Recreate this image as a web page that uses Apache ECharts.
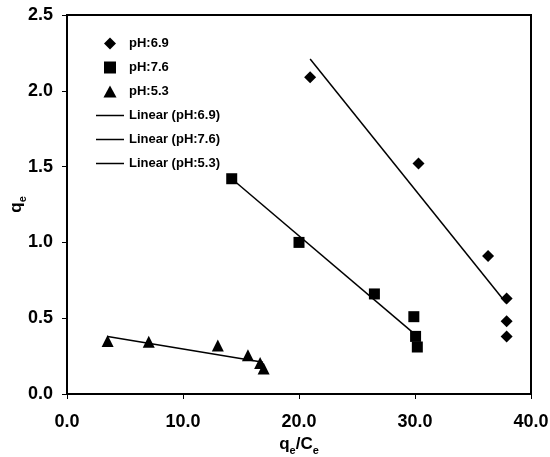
<!DOCTYPE html>
<html>
<head>
<meta charset="utf-8">
<script src="https://cdn.jsdelivr.net/npm/echarts@6/dist/echarts.min.js"></script>
<style>html,body{margin:0;padding:0;background:#fff}#c{width:550px;height:457px}</style>
</head>
<body>
<div id="c"></div>
<script>
// Data
const ph69X = [20.96, 30.3, 36.3, 37.9, 37.9, 37.9];
const ph69Y = [2.09, 1.52, 0.91, 0.63, 0.48, 0.38];
const ph76X = [14.2, 20.0, 26.5, 29.9, 30.05, 30.2];
const ph76Y = [1.42, 1.00, 0.66, 0.51, 0.38, 0.31];
const ph53X = [3.5, 7.05, 13.0, 15.6, 16.65, 16.95];
const ph53Y = [0.35, 0.345, 0.32, 0.255, 0.205, 0.168];
// Trend-line endpoints
const lin69X = [20.96, 37.85];
const lin69Y = [2.21, 0.60];
const lin76X = [14.2, 29.9];
const lin76Y = [1.42, 0.40];
const lin53X = [3.5, 16.9];
const lin53Y = [0.38, 0.21];
const xTicks = [0, 10, 20, 30, 40];
const yTicks = [0, 0.5, 1.0, 1.5, 2.0, 2.5];
const seriesNames = ['pH:6.9', 'pH:7.6', 'pH:5.3', 'Linear (pH:6.9)', 'Linear (pH:7.6)', 'Linear (pH:5.3)'];

const zip = (xs, ys) => xs.map((x, i) => [x, ys[i]]);
const FONT = '"Liberation Sans", Arial, sans-serif';

const ICON_DIAMOND = 'path://M6,0 L12,6 L6,12 L0,6 Z';
const ICON_SQUARE = 'path://M0,0 L11,0 L11,11 L0,11 Z';
const ICON_TRIANGLE = 'path://M6,0 L12,11 L0,11 Z';
const ICON_LINE = 'path://M0,0 L28,0 L28,1.5 L0,1.5 Z';
const legendIcons = [ICON_DIAMOND, ICON_SQUARE, ICON_TRIANGLE, ICON_LINE, ICON_LINE, ICON_LINE];

const chart = echarts.init(document.getElementById('c'), null, {renderer: 'canvas'});
const lineStyle = {color: '#000', width: 1.5};
const subRich = {
  a: {fontFamily: FONT, fontWeight: 'bold', fontSize: 17, color: '#000', verticalAlign: 'bottom', lineHeight: 20},
  s: {fontFamily: FONT, fontWeight: 'bold', fontSize: 11, color: '#000', verticalAlign: 'bottom', lineHeight: 20, padding: [0, 0, -3, 0]}
};
const option = {
  animation: false,
  backgroundColor: '#fff',
  textStyle: {fontFamily: FONT},
  grid: {left: 67, right: 19, top: 15, bottom: 63, containLabel: false, outerBoundsMode: 'none',
    show: true, borderColor: '#000', borderWidth: 2, backgroundColor: 'transparent'},
  legend: {
    orient: 'vertical', left: 96, top: 37, padding: 0,
    itemWidth: 28, itemHeight: 12, itemGap: 11, symbolKeepAspect: true,
    textStyle: {fontFamily: FONT, fontWeight: 'bold', fontSize: 13, color: '#000'},
    data: seriesNames.map((n, i) => ({name: n, icon: legendIcons[i], itemStyle: {color: '#000', opacity: 1}}))
  },
  xAxis: {
    type: 'value', min: xTicks[0], max: xTicks[xTicks.length - 1], interval: 10,
    name: '{a|q}{s|e}{a|/C}{s|e}', nameLocation: 'middle', nameGap: 39, nameMoveOverlap: false,
    nameTextStyle: {rich: subRich},
    axisLine: {lineStyle: {color: '#000', width: 2}},
    axisTick: {show: true, length: 5, lineStyle: {color: '#000', width: 1}},
    splitLine: {show: false},
    axisLabel: {fontFamily: FONT, fontWeight: 'bold', fontSize: 18, color: '#000', margin: 19,
      formatter: v => v.toFixed(1)}
  },
  yAxis: {
    type: 'value', min: yTicks[0], max: yTicks[yTicks.length - 1], interval: 0.5,
    name: '{a|q}{s|e}', nameLocation: 'middle', nameGap: 42, nameRotate: 90, nameMoveOverlap: false,
    nameTextStyle: {rich: subRich},
    axisLine: {lineStyle: {color: '#000', width: 2}},
    axisTick: {show: true, length: 5, lineStyle: {color: '#000', width: 1}},
    splitLine: {show: false},
    axisLabel: {fontFamily: FONT, fontWeight: 'bold', fontSize: 18, color: '#000', margin: 14,
      formatter: v => v.toFixed(1)}
  },
  series: [
    {name: seriesNames[0], type: 'scatter', symbol: 'diamond', symbolSize: 12, itemStyle: {color: '#000', opacity: 1}, data: zip(ph69X, ph69Y), z: 3},
    {name: seriesNames[1], type: 'scatter', symbol: 'rect', symbolSize: 11, itemStyle: {color: '#000', opacity: 1}, data: zip(ph76X, ph76Y), z: 3},
    {name: seriesNames[2], type: 'scatter', symbol: 'triangle', symbolSize: 12, itemStyle: {color: '#000', opacity: 1}, data: zip(ph53X, ph53Y), z: 3},
    {name: seriesNames[3], type: 'line', symbol: 'none', lineStyle: lineStyle, itemStyle: {color: '#000'}, data: zip(lin69X, lin69Y), z: 2},
    {name: seriesNames[4], type: 'line', symbol: 'none', lineStyle: lineStyle, itemStyle: {color: '#000'}, data: zip(lin76X, lin76Y), z: 2},
    {name: seriesNames[5], type: 'line', symbol: 'none', lineStyle: lineStyle, itemStyle: {color: '#000'}, data: zip(lin53X, lin53Y), z: 2}
  ]
};
chart.setOption(option);
</script>
</body>
</html>
